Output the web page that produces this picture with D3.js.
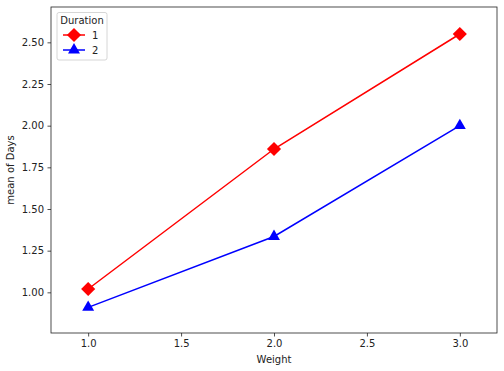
<!DOCTYPE html>
<html lang="en">
  <head>
    <meta charset="UTF-8" />
    <title>Interaction plot</title>
    <script src="https://d3js.org/d3.v7.min.js"></script>
    <style>
      html,
      body {
        margin: 0;
        padding: 0;
        background-color: #fff;
        font-family: "DejaVu Sans", sans-serif;
      }
      text {
        fill: #222;
      }
    </style>
  </head>
  <body>
    <svg id="chart"></svg>
    <script>
      // data
      const weights = [1, 2, 3];
      const duration1 = [1.02, 1.86, 2.55];
      const duration2 = [0.91, 1.335, 2.0];
      const xTicks = [1.0, 1.5, 2.0, 2.5, 3.0];
      const yTicks = [1.0, 1.25, 1.5, 1.75, 2.0, 2.25, 2.5];

      const series = [
        { name: "1", values: duration1, color: "red", marker: "diamond" },
        { name: "2", values: duration2, color: "blue", marker: "triangle" },
      ];

      const W = 504;
      const H = 371;
      const margin = { top: 7, right: 7, bottom: 38, left: 51 };
      const width = W - margin.left - margin.right;
      const height = H - margin.top - margin.bottom;

      const svg = d3.select("#chart").attr("width", W).attr("height", H);
      const g = svg
        .append("g")
        .attr("transform", `translate(${margin.left},${margin.top})`);

      const x = d3.scaleLinear().domain([0.8, 3.2]).range([0, width]);
      const y = d3.scaleLinear().domain([0.756, 2.712]).range([height, 0]);

      // axes
      const xAxis = g
        .append("g")
        .attr("transform", `translate(0,${height})`)
        .call(
          d3
            .axisBottom(x)
            .tickValues(xTicks)
            .tickFormat(d3.format(".1f"))
            .tickSize(3.5)
            .tickPadding(3.5)
        );
      const yAxis = g.append("g").call(
        d3
          .axisLeft(y)
          .tickValues(yTicks)
          .tickFormat(d3.format(".2f"))
          .tickSize(3.5)
          .tickPadding(3.5)
      );
      [xAxis, yAxis].forEach((a) => {
        a.select(".domain").remove();
        a.selectAll("line").attr("stroke", "#222").attr("stroke-width", 0.8);
        a.selectAll("text")
          .attr("font-family", "DejaVu Sans")
          .attr("font-size", 10)
          .attr("fill", "#222");
      });

      // frame
      g.append("rect")
        .attr("width", width)
        .attr("height", height)
        .attr("fill", "none")
        .attr("stroke", "#222")
        .attr("stroke-width", 0.8);

      // axis labels
      svg
        .append("text")
        .attr("x", margin.left + width / 2)
        .attr("y", H - 8)
        .attr("text-anchor", "middle")
        .attr("font-size", 10)
        .text("Weight");
      svg
        .append("text")
        .attr(
          "transform",
          `translate(14,${margin.top + height / 2}) rotate(-90)`
        )
        .attr("text-anchor", "middle")
        .attr("font-size", 10)
        .text("mean of Days");

      const symbolFor = (m) =>
        m === "diamond"
          ? d3.symbol().type(d3.symbolSquare).size(100)
          : d3.symbol().type(d3.symbolTriangle).size(62);
      const rot = (m) => (m === "diamond" ? " rotate(45)" : "");

      const line = d3
        .line()
        .x((d) => x(d[0]))
        .y((d) => y(d[1]));

      series.forEach((s) => {
        const pts = weights.map((w, i) => [w, s.values[i]]);
        g.append("path")
          .datum(pts)
          .attr("d", line)
          .attr("fill", "none")
          .attr("stroke", s.color)
          .attr("stroke-width", 1.5);
        g.selectAll(null)
          .data(pts)
          .enter()
          .append("path")
          .attr("d", symbolFor(s.marker))
          .attr(
            "transform",
            (d) => `translate(${x(d[0])},${y(d[1])})${rot(s.marker)}`
          )
          .attr("fill", s.color);
      });

      // legend
      const lg = svg.append("g").attr("transform", "translate(57,12.5)");
      lg.append("rect")
        .attr("width", 50)
        .attr("height", 47.5)
        .attr("rx", 2)
        .attr("fill", "white")
        .attr("fill-opacity", 0.8)
        .attr("stroke", "#ccc")
        .attr("stroke-width", 0.8);
      lg.append("text")
        .attr("x", 25)
        .attr("y", 11.5)
        .attr("text-anchor", "middle")
        .attr("font-size", 10)
        .text("Duration");
      series.forEach((s, i) => {
        const cy = 22.5 + i * 15;
        lg.append("line")
          .attr("x1", 6)
          .attr("x2", 28)
          .attr("y1", cy)
          .attr("y2", cy)
          .attr("stroke", s.color)
          .attr("stroke-width", 1.5);
        lg.append("path")
          .attr("d", symbolFor(s.marker))
          .attr("transform", `translate(17,${cy})${rot(s.marker)}`)
          .attr("fill", s.color);
        lg.append("text")
          .attr("x", 35)
          .attr("y", cy + 3.5)
          .attr("font-size", 10)
          .text(s.name);
      });
    </script>
  </body>
</html>
